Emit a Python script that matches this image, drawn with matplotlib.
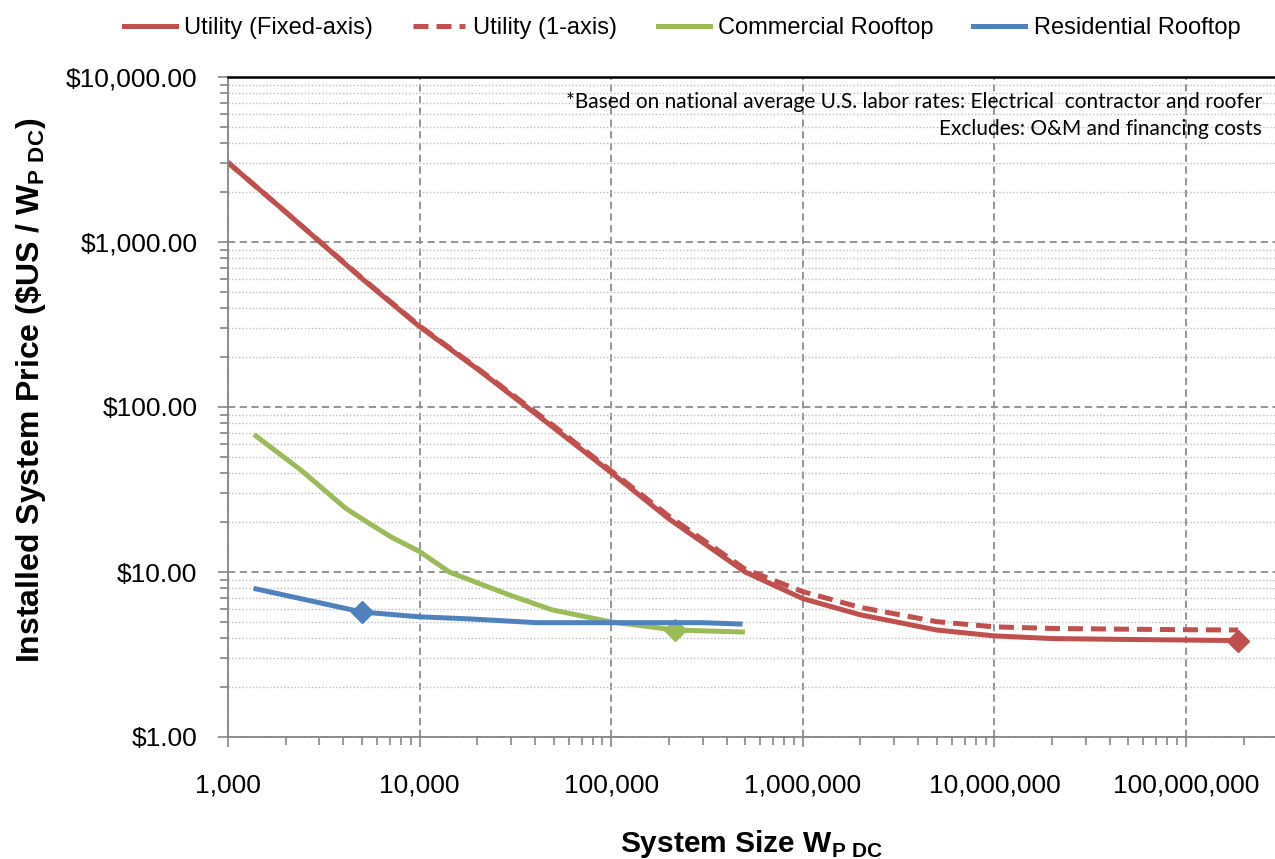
import numpy as np
import matplotlib.pyplot as plt
from matplotlib.lines import Line2D
from matplotlib.ticker import FuncFormatter, LogLocator, NullFormatter

plt.rcParams['font.family'] = ['Liberation Sans', 'DejaVu Sans']
plt.rcParams['mathtext.fontset'] = 'custom'
plt.rcParams['mathtext.rm'] = 'Liberation Sans'
plt.rcParams['mathtext.bf'] = 'Liberation Sans:bold'

# -----------------------------------------------------------
# Data (W_p DC vs $US / W_p DC)
# -----------------------------------------------------------
util_w = [1000, 2000, 5000, 10000, 20000, 50000, 100000, 200000, 500000,
          1e6, 2e6, 5e6, 1e7, 2e7, 5e7, 1e8, 1.87e8]
util_fixed_p = [3030, 1520, 600, 307, 170, 75, 40, 21, 10,
                6.9, 5.5, 4.45, 4.1, 3.95, 3.9, 3.87, 3.84]
util_track_p = [3030, 1520, 605, 310, 172, 77, 41, 21.8, 10.4,
                7.6, 6.1, 5.0, 4.65, 4.55, 4.5, 4.47, 4.45]

comm_w = [1400, 2400, 4100, 5100, 7100, 10000, 14300, 20000, 30000, 49000,
          100000, 150000, 215000, 300000, 484000]
comm_p = [66.7, 41.5, 24.4, 20.7, 16.3, 13.3, 10.0, 8.6, 7.2, 5.9,
          4.98, 4.7, 4.45, 4.4, 4.33]

res_w = [1400, 5000, 10000, 18000, 41000, 100000, 300000, 470000]
res_p = [7.9, 5.72, 5.35, 5.2, 4.93, 4.93, 4.93, 4.84]

RED, GREEN, BLUE = '#C0504D', '#9BBB59', '#4F81BD'
DASH = (0, (3, 1.6))

fig = plt.figure(figsize=(12.75, 8.59), dpi=100)
ax = fig.add_axes([228 / 1275, 1 - 737 / 859, 1 - 228 / 1275, 660 / 859])

lw = 3.6
ax.plot(util_w, util_fixed_p, color=RED, lw=lw,
        marker='D', markersize=11, markevery=[len(util_w) - 1])
ax.plot(util_w, util_track_p, color=RED, lw=lw, ls=DASH)
ax.plot(comm_w, comm_p, color=GREEN, lw=lw, marker='D', markersize=11, markevery=[12])
ax.plot(res_w, res_p, color=BLUE, lw=lw, marker='D', markersize=11, markevery=[1])

ax.set_xscale('log')
ax.set_yscale('log')
ax.set_xlim(1000, 10 ** (3 + 1047 / 191.6))
ax.set_ylim(1, 10000)

ax.xaxis.set_major_formatter(FuncFormatter(lambda v, p: f'{v:,.0f}'))
ax.yaxis.set_major_formatter(FuncFormatter(lambda v, p: f'${v:,.2f}'))
ax.xaxis.set_minor_locator(LogLocator(base=10, subs=np.arange(2, 10), numticks=20))
ax.yaxis.set_minor_locator(LogLocator(base=10, subs=np.arange(2, 10), numticks=20))
ax.xaxis.set_minor_formatter(NullFormatter())
ax.yaxis.set_minor_formatter(NullFormatter())
ax.tick_params(which='major', direction='out', length=7, width=1.2,
               color='#868686', labelsize=19)
ax.tick_params(which='minor', direction='out', length=5.5, width=1.2,
               color='#868686')
ax.tick_params(axis='y', which='major', pad=15)
ax.tick_params(axis='x', which='major', pad=19)

ax.grid(which='major', axis='both', ls=(0, (4, 2.5)), color='#8C8C8C', lw=1.3)
ax.grid(which='minor', axis='y', ls=(0, (1, 1.5)), color='#BDBDBD', lw=1.0)
ax.set_axisbelow(True)

ax.spines['right'].set_visible(False)
ax.spines['top'].set_color('black')
ax.spines['top'].set_linewidth(1.8)
for s in ('left', 'bottom'):
    ax.spines[s].set_color('#868686')
    ax.spines[s].set_linewidth(1.3)

ax.set_ylabel('Installed System Price (\\$US / W$_{\\mathbf{P\\ DC}}$)',
              fontsize=23, fontweight='bold', labelpad=12)
ax.yaxis.set_label_coords(-0.172, (737 - 390) / 660)
ax.set_xlabel('System Size W$_{\\mathbf{P\\ DC}}$', fontsize=21.5,
              fontweight='bold', labelpad=22)

note_font = ['Lato', 'DejaVu Sans']
ax.text(0.9876, (737 - 108) / 660,
        '*Based on national average U.S. labor rates: Electrical  contractor and roofer',
        transform=ax.transAxes, ha='right', va='baseline', fontsize=15, family=note_font)
ax.text(0.9876, (737 - 135) / 660, 'Excludes: O&M and financing costs',
        transform=ax.transAxes, ha='right', va='baseline', fontsize=15, family=note_font)

handles = [Line2D([], [], color=RED, lw=lw),
           Line2D([], [], color=RED, lw=lw, ls=DASH),
           Line2D([], [], color=GREEN, lw=lw),
           Line2D([], [], color=BLUE, lw=lw)]
labels = ['Utility (Fixed-axis)', 'Utility (1-axis)', 'Commercial Rooftop',
          'Residential Rooftop']
fig.legend(handles, labels, loc='upper center', bbox_to_anchor=(0.535, 1.005), ncol=4,
           frameon=False, fontsize=17, handlelength=2.2, handletextpad=0.35,
           columnspacing=1.7)

fig.savefig('out.png', dpi=100)
